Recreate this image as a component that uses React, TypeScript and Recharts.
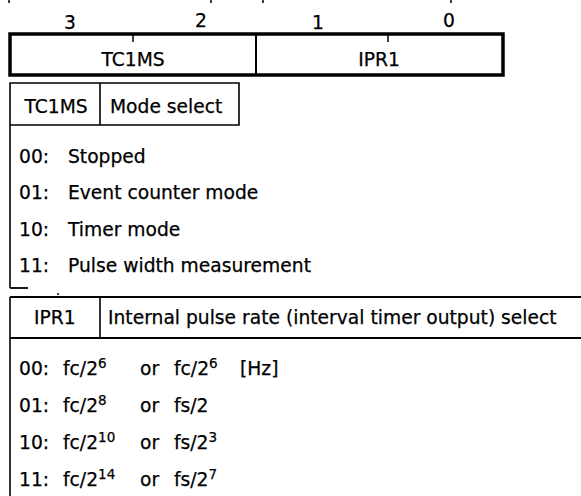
import React from 'react';
import { ComposedChart, XAxis, YAxis, Scatter, ReferenceLine, ReferenceArea } from 'recharts';

// ---- content ----
const bitLabels = ['3', '2', '1', '0'];
const fieldNames = ['TC1MS', 'IPR1'];
const modeHeader = ['TC1MS', 'Mode select'];
const modeCodes = ['00:', '01:', '10:', '11:'];
const modeNames = ['Stopped', 'Event counter mode', 'Timer mode', 'Pulse width measurement'];
const iprHeader = ['IPR1', 'Internal pulse rate (interval timer output) select'];
const iprCodes = ['00:', '01:', '10:', '11:'];
const iprFcExponents = ['6', '8', '10', '14'];
const iprAltBases = ['fc/2', 'fs/2', 'fs/2', 'fs/2'];
const iprAltExponents = ['6', '', '3', '7'];
const iprUnit = '[Hz]';

// ---- layout ----
const W = 581;
const H = 496;
const FONT = '"DejaVu Sans", sans-serif';
const FS = 18.7;
const SUP = 13.5;
const bitX = [70, 201, 318, 449];
const bitY = [29, 27, 29, 27];
const reg = { left: 10, right: 503, top: 34, bottom: 75, mid: 256, ticks: [133, 388] };
const fieldCenters = [133, 379];

type Part = { t: string; sup?: boolean };
type Item = { x: number; y: number; parts: Part[]; anchor?: string };

const items: Item[] = [];
bitLabels.forEach((b, i) => items.push({ x: bitX[i], y: bitY[i], parts: [{ t: b }], anchor: 'middle' }));
fieldNames.forEach((f, i) => items.push({ x: fieldCenters[i], y: 66, parts: [{ t: f }], anchor: 'middle' }));
items.push({ x: 56, y: 113, parts: [{ t: modeHeader[0] }], anchor: 'middle' });
items.push({ x: 110, y: 113, parts: [{ t: modeHeader[1] }] });
modeCodes.forEach((c, i) => {
  const y = 163 + i * 36.3;
  items.push({ x: 19, y, parts: [{ t: c }] });
  items.push({ x: 68, y, parts: [{ t: modeNames[i] }] });
});
items.push({ x: 34, y: 324, parts: [{ t: iprHeader[0] }] });
items.push({ x: 108, y: 324, parts: [{ t: iprHeader[1] }] });
iprCodes.forEach((c, i) => {
  const y = 375 + i * 37;
  items.push({ x: 19, y, parts: [{ t: c }] });
  items.push({ x: 63, y, parts: [{ t: 'fc/2' }, { t: iprFcExponents[i], sup: true }] });
  items.push({ x: 140, y, parts: [{ t: 'or' }] });
  const alt: Part[] = [{ t: iprAltBases[i] }];
  if (iprAltExponents[i]) alt.push({ t: iprAltExponents[i], sup: true });
  items.push({ x: 174, y, parts: alt });
  if (i === 0) items.push({ x: 240, y, parts: [{ t: iprUnit }] });
});

const TextShape = (props: any) => {
  const { cx, cy, payload } = props;
  let offset = 0;
  return (
    <text
      x={cx}
      y={cy}
      fontFamily={FONT}
      fontSize={FS}
      fill="#000"
      stroke="#000"
      strokeWidth={0.25}
      textAnchor={payload.anchor || 'start'}
    >
      {payload.parts.map((p: Part, i: number) => {
        const target = p.sup ? -7 : 0;
        const dy = target - offset;
        offset = target;
        return (
          <tspan key={i} dy={dy} fontSize={p.sup ? SUP : FS}>
            {p.t}
          </tspan>
        );
      })}
    </text>
  );
};

type Seg = { x1: number; y1: number; x2: number; y2: number; w: number };
const segs: Seg[] = [
  // fragments at top edge
  { x1: 9, y1: 0, x2: 9, y2: 3, w: 1.5 },
  { x1: 211, y1: 0, x2: 211, y2: 3, w: 1.5 },
  { x1: 263, y1: 0, x2: 263, y2: 3, w: 1.5 },
  { x1: 451, y1: 0, x2: 451, y2: 3, w: 1.5 },
  // register
  { x1: reg.mid, y1: reg.top, x2: reg.mid, y2: reg.bottom, w: 2 },
  { x1: reg.ticks[0], y1: reg.top, x2: reg.ticks[0], y2: 42, w: 1.5 },
  { x1: reg.ticks[1], y1: reg.top, x2: reg.ticks[1], y2: 42, w: 1.5 },
  // mode section
  { x1: 100, y1: 83, x2: 100, y2: 125, w: 1.6 },
  { x1: 10, y1: 125, x2: 10, y2: 288, w: 1.6 },
  { x1: 10, y1: 288, x2: 28, y2: 288, w: 1.8 },
  { x1: 58, y1: 293, x2: 58, y2: 295, w: 1.5 },
  // IPR section
  { x1: 10, y1: 297, x2: W, y2: 297, w: 2 },
  { x1: 10, y1: 338, x2: W, y2: 338, w: 2.2 },
  { x1: 10, y1: 297, x2: 10, y2: H, w: 1.6 },
  { x1: 100, y1: 297, x2: 100, y2: 338, w: 1.6 },
];

export default function App() {
  return (
    <div style={{ position: 'absolute', left: 0, top: 0, width: W, height: H, background: '#fff' }}>
      <ComposedChart width={W} height={H} margin={{ top: 0, right: 0, bottom: 0, left: 0 }}>
        <XAxis type="number" dataKey="x" domain={[0, W]} hide allowDataOverflow />
        <YAxis type="number" dataKey="y" domain={[0, H]} reversed hide allowDataOverflow />
        <ReferenceArea
          x1={reg.left}
          x2={reg.right}
          y1={reg.top}
          y2={reg.bottom}
          fill="none"
          stroke="#000"
          strokeWidth={3.5}
          ifOverflow="visible"
        />
        <ReferenceArea x1={10} x2={239} y1={83} y2={125} fill="none" stroke="#000" strokeWidth={1.6} ifOverflow="visible" />
        {segs.map((s, i) => (
          <ReferenceLine
            key={i}
            segment={[{ x: s.x1, y: s.y1 }, { x: s.x2, y: s.y2 }]}
            stroke="#000"
            strokeWidth={s.w}
            ifOverflow="visible"
          />
        ))}
        <Scatter data={items} dataKey="y" shape={TextShape} isAnimationActive={false} />
      </ComposedChart>
    </div>
  );
}
